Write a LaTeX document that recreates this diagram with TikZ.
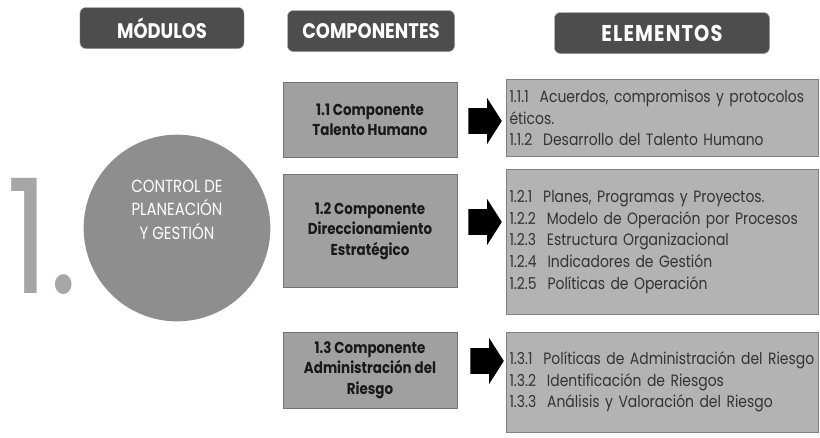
\documentclass[tikz,border=0pt]{standalone}
\usepackage{fontspec}
\setmainfont{Poppins}[FakeStretch=0.85]
\usetikzlibrary{positioning,shapes.arrows}

\definecolor{headgray}{HTML}{4D4D4D}
\definecolor{compgray}{HTML}{A0A0A0}
\definecolor{elemgray}{HTML}{B3B3B3}
\definecolor{circgray}{HTML}{8E8E8E}
\definecolor{onegray}{HTML}{A6A6A6}

\tikzset{
	header/.style={draw=gray!75, fill=headgray, rounded corners=5pt, text=white,
		font=\bfseries\fontsize{18}{18}\selectfont, minimum height=1.23cm},
	compbox/.style={draw=black!55, fill=compgray, text=black!90, align=center,
		font=\bfseries\fontsize{13.5}{17.5}\selectfont, minimum width=5.22cm},
	elembox/.style={draw=black!50, fill=elemgray, text=black!80, align=left,
		font=\fontsize{14}{18.5}\selectfont, text width=9.15cm, inner xsep=0.1cm},
	blockarrow/.style={single arrow, fill=black, inner xsep=0pt, inner ysep=0.38cm,
		single arrow head extend=0.3cm, single arrow tip angle=115, minimum height=1.0cm},
}

\begin{document}
\begin{tikzpicture}[x=0.03cm,y=-0.03cm]
	\useasboundingbox[fill=white] (0,0) rectangle (820,437);

	% column titles
	\node[header, minimum width=4.92cm] (hmod) at (162,28) {MÓDULOS};
	\node[header, minimum width=5.01cm] (hcomp) at (371,31) {COMPONENTES};
	\node[header, minimum width=6.45cm] (helem) at (662,33) {\fontsize{19.5}{19.5}\selectfont\addfontfeature{LetterSpace=5}ELEMENTOS};

	% module
	\node[anchor=base west, text=onegray, font=\fontsize{136}{136}\selectfont, inner sep=0pt] (one) at (6,293) {1.};
	\node[circle, fill=circgray, minimum size=5.6cm, text=white, align=center,
		font=\fontsize{15}{20}\selectfont] (mod) at (177,228) {CONTROL DE\\PLANEACIÓN\\Y GESTIÓN\\[0.4cm]};

	% components
	\node[compbox, minimum height=2.25cm] (c1) at (370,120) {1.1 Componente\\Talento Humano};
	\node[compbox, minimum height=3.39cm] (c2) at (370,231) {1.2 Componente\\Direccionamiento\\Estratégico};
	\node[compbox, minimum height=2.28cm] (c3) at (370,370) {1.3 Componente\\Administración del\\Riesgo};

	% elements
	\node[elembox, minimum height=2.31cm] (e1) at (662,118) {1.1.1\ \ Acuerdos, compromisos y protocolos\\éticos.\\1.1.2\ \ Desarrollo del Talento Humano};
	\node[elembox, minimum height=4.35cm] (e2) at (662,242) {1.2.1\ \ Planes, Programas y Proyectos.\\1.2.2\ \ Modelo de Operación por Procesos\\1.2.3\ \ Estructura Organizacional\\1.2.4\ \ Indicadores de Gestión\\1.2.5\ \ Políticas de Operación};
	\node[elembox, minimum height=3.0cm] (e3) at (662,382) {1.3.1\ \ Políticas de Administración del Riesgo\\1.3.2\ \ Identificación de Riesgos\\1.3.3\ \ Análisis y Valoración del Riesgo};

	% arrows
	\node[blockarrow] (a1) at (481,121) {};
	\node[blockarrow] (a2) at (481,222) {};
	\node[blockarrow] (a3) at (483,361) {};
\end{tikzpicture}
\end{document}
